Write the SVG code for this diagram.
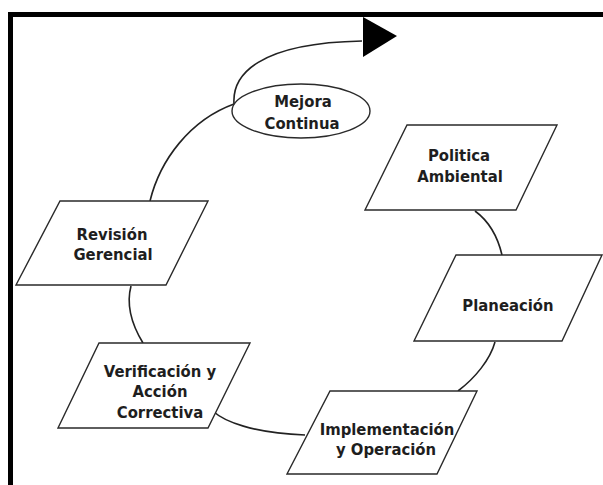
<svg xmlns="http://www.w3.org/2000/svg" width="603" height="485" viewBox="0 0 603 485">
<style>
.shape{fill:#fff;stroke:#2a2a2a;stroke-width:1.4}
.conn{fill:none;stroke:#222;stroke-width:1.6}
text{font-family:"DejaVu Sans Condensed","DejaVu Sans",sans-serif;font-weight:bold;font-size:16.5px;fill:#1e1e1e;text-anchor:middle}
</style>
<rect x="0" y="0" width="603" height="485" fill="#fff"/>
<g id="frame">
<rect x="8" y="12" width="595" height="5" fill="#000"/>
<rect x="8" y="12" width="5" height="473" fill="#000"/>
</g>
<g id="connectors">
<path class="conn" d="M150,201 C160,160 190,120 234,104"/>
<path class="conn" d="M234,104 C232,75 258,43 362,41"/>
<polygon points="363,17 397,36 363,57" fill="#000"/>
<path class="conn" d="M475,211 C490,222 498,238 502,255"/>
<path class="conn" d="M495,342 C490,360 475,378 458,391"/>
<path class="conn" d="M214,412 C224,421 252,433 305,435"/>
<path class="conn" d="M131,286 C126,305 132,325 143,343"/>
</g>
<g id="mejora">
<ellipse class="shape" cx="301" cy="111" rx="69" ry="27"/>
<text x="303" y="107">Mejora</text>
<text x="302" y="129">Continua</text>
</g>
<g id="politica">
<polygon class="shape" points="407,125 557,125 516,210 365,210"/>
<text x="459" y="161">Politica</text>
<text x="460" y="182">Ambiental</text>
</g>
<g id="planeacion">
<polygon class="shape" points="456,255 602,255 562,341 414,341"/>
<text x="508" y="311">Planeación</text>
</g>
<g id="implementacion">
<polygon class="shape" points="330,391 477,391 437,474 287,474"/>
<text x="387" y="435">Implementación</text>
<text x="386" y="455">y Operación</text>
</g>
<g id="verificacion">
<polygon class="shape" points="99,343 250,343 208,428 58,428"/>
<text x="160" y="377">Verificación y</text>
<text x="160" y="397">Acción</text>
<text x="160" y="418">Correctiva</text>
</g>
<g id="revision">
<polygon class="shape" points="60,201 208,201 166,285 16,285"/>
<text x="112" y="240">Revisión</text>
<text x="113" y="260">Gerencial</text>
</g>
</svg>
